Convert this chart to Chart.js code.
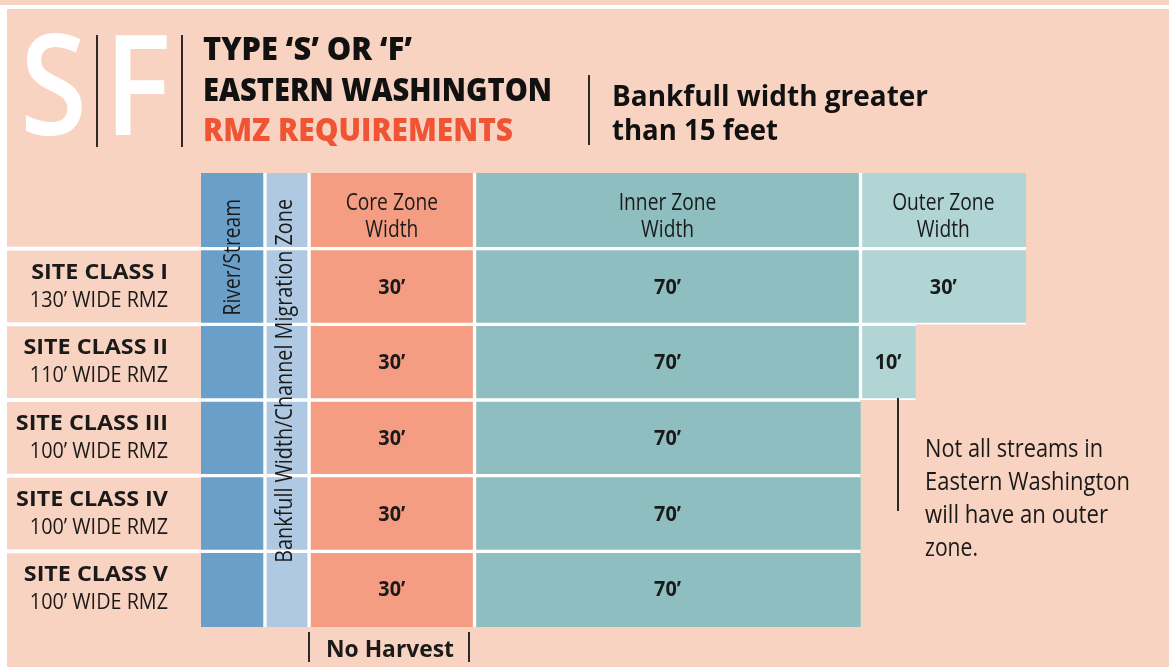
<!DOCTYPE html>
<html>
<head>
<meta charset="utf-8">
<script src="https://cdn.jsdelivr.net/npm/chart.js@4.4.1/dist/chart.umd.min.js"></script>
<style>
  html, body { margin: 0; padding: 0; background: #F9D3C1; }
  #wrap { position: relative; width: 1169px; height: 667px; overflow: hidden; background: #F9D3C1; }
  #topline { position: absolute; left: 0; top: 5px; width: 1169px; height: 4px; background: #fff; }
  #leftline { position: absolute; left: 0; top: 5px; width: 7px; height: 662px; background: #fff; }
  #c { position: absolute; left: 0; top: 0; }
  #ov { position: absolute; left: 0; top: 0; pointer-events: none; }
</style>
</head>
<body>
<div id="wrap">
  <div id="topline"></div>
  <div id="leftline"></div>
  <canvas id="c" width="1169" height="667"></canvas>
  <svg id="ov" width="1169" height="667" xmlns="http://www.w3.org/2000/svg" font-family="'Open Sans', 'Noto Sans', sans-serif">
    <text x="20" y="135" font-size="140" font-weight="600" fill="#ffffff" textLength="67" lengthAdjust="spacingAndGlyphs">S</text>
    <text x="104" y="135" font-size="140" font-weight="600" fill="#ffffff" textLength="67" lengthAdjust="spacingAndGlyphs">F</text>
    <g stroke="#2a2a2a" stroke-width="2">
      <line x1="97" y1="35" x2="97" y2="147"/>
      <line x1="182" y1="35" x2="182" y2="147"/>
      <line x1="589" y1="75" x2="589" y2="145"/>
      <line x1="898" y1="398" x2="898" y2="511"/>
      <line x1="309" y1="632" x2="309" y2="662"/>
      <line x1="469" y1="632" x2="469" y2="662"/>
    </g>
    <g font-size="32" font-weight="800" fill="#111">
      <text x="203" y="60" textLength="209" lengthAdjust="spacingAndGlyphs">TYPE ‘S’ OR ‘F’</text>
      <text x="203" y="101" textLength="349" lengthAdjust="spacingAndGlyphs">EASTERN WASHINGTON</text>
      <text x="203" y="141" textLength="310" lengthAdjust="spacingAndGlyphs" fill="#EF5535">RMZ REQUIREMENTS</text>
    </g>
    <g font-size="29" font-weight="700" fill="#111">
      <text x="612" y="106" textLength="316" lengthAdjust="spacingAndGlyphs">Bankfull width greater</text>
      <text x="612" y="140" textLength="166" lengthAdjust="spacingAndGlyphs">than 15 feet</text>
    </g>
    <g font-size="25" font-weight="400" fill="#1a1a1a">
      <text x="925" y="457" textLength="178" lengthAdjust="spacingAndGlyphs">Not all streams in</text>
      <text x="925" y="490" textLength="205" lengthAdjust="spacingAndGlyphs">Eastern Washington</text>
      <text x="925" y="523" textLength="183" lengthAdjust="spacingAndGlyphs">will have an outer</text>
      <text x="925" y="556" textLength="53" lengthAdjust="spacingAndGlyphs">zone.</text>
    </g>
    <text x="326" y="657" font-size="24" font-weight="700" fill="#1a1a1a" textLength="128" lengthAdjust="spacingAndGlyphs">No Harvest</text>
  </svg>
</div>
<script>
// ---- data ----
const siteClasses = ['SITE CLASS I', 'SITE CLASS II', 'SITE CLASS III', 'SITE CLASS IV', 'SITE CLASS V'];
const rmzWidths = ['130’ WIDE RMZ', '110’ WIDE RMZ', '100’ WIDE RMZ', '100’ WIDE RMZ', '100’ WIDE RMZ'];
const columnHeaders = ['River/Stream', 'Bankfull Width/Channel Migration Zone', 'Core Zone\nWidth', 'Inner Zone\nWidth', 'Outer Zone\nWidth'];
// schematic (not to scale) widths for the stream and channel migration zone columns
const riverStream = [11.6, 11.6, 11.6, 11.6, 11.6];
const bankfullCMZ = [8, 8, 8, 8, 8];
// zone widths in feet
const coreZone = [30, 30, 30, 30, 30];
const innerZone = [70, 70, 70, 70, 70];
const outerZone = [30, 10, 0, 0, 0];

// ---- build table (first row = column header row) ----
const categories = ['', ...siteClasses];
const withHeader = arr => [Math.max(...arr), ...arr];
const series = [riverStream, bankfullCMZ, coreZone, innerZone, outerZone];
const colors = ['#6A9FC9', '#AFC9E3', '#F59D82', '#8EBEC0', '#B1D4D5'];
const datasets = series.map((s, k) => ({
  label: columnHeaders[k].replace('\n', ' '),
  data: withHeader(s),
  backgroundColor: colors[k]
}));
const xMax = Math.max(...categories.map((_, i) => datasets.reduce((a, d) => a + d.data[i], 0)));

const TXT = '#1a1a1a';
function drawText(ctx, s, x, y, font, sx, align) {
  ctx.save();
  ctx.font = font;
  ctx.fillStyle = TXT;
  ctx.textAlign = align;
  ctx.textBaseline = 'alphabetic';
  ctx.translate(x, y);
  ctx.scale(sx, 1);
  ctx.fillText(s, 0, 0);
  ctx.restore();
}

const FAM = "'Open Sans', 'Noto Sans', sans-serif";
const tablePlugin = {
  id: 'tableText',
  beforeDatasetsDraw(chart) {
    const { ctx, chartArea, scales: { y } } = chart;
    ctx.save();
    ctx.fillStyle = '#ffffff';
    for (let i = 0; i < categories.length - 1; i++) {
      const yy = (y.getPixelForValue(i) + y.getPixelForValue(i + 1)) / 2;
      ctx.fillRect(7, yy - 2, chartArea.left - 7, 4);
    }
    ctx.restore();
  },
  afterDatasetsDraw(chart) {
    const { ctx, chartArea } = chart;
    // column headers for zone columns
    for (let d = 2; d < datasets.length; d++) {
      const el = chart.getDatasetMeta(d).data[0];
      const cx = (el.x + el.base) / 2;
      const lines = columnHeaders[d].split('\n');
      drawText(ctx, lines[0], cx, el.y - 1, '400 24px ' + FAM, 0.8, 'center');
      drawText(ctx, lines[1], cx, el.y + 26, '400 24px ' + FAM, 0.8, 'center');
    }
    // vertical headers
    const vert = (d, dx, sx) => {
      const el = chart.getDatasetMeta(d).data[0];
      const cx = (el.x + el.base) / 2;
      ctx.save();
      ctx.translate(cx + dx, chartArea.top + 26);
      ctx.rotate(-Math.PI / 2);
      ctx.scale(sx, 1);
      ctx.font = '400 24px ' + FAM;
      ctx.fillStyle = TXT;
      ctx.textAlign = 'right';
      ctx.textBaseline = 'alphabetic';
      ctx.fillText(columnHeaders[d], 0, 0);
      ctx.restore();
    };
    vert(0, 7, 0.8);
    vert(1, 5, 0.825);
    // values and row labels
    for (let i = 1; i < categories.length; i++) {
      for (let d = 2; d < datasets.length; d++) {
        const v = datasets[d].data[i];
        if (!v) continue;
        const el = chart.getDatasetMeta(d).data[i];
        drawText(ctx, v + '’', (el.x + el.base) / 2, el.y + 7, '700 22px ' + FAM, 0.9, 'center');
      }
      const el0 = chart.getDatasetMeta(0).data[i];
      drawText(ctx, siteClasses[i - 1], chartArea.left - 33, el0.y - 8, '700 22px ' + FAM, 1.06, 'right');
      drawText(ctx, rmzWidths[i - 1], chartArea.left - 33, el0.y + 20, '500 22px ' + FAM, 0.9, 'right');
    }
  }
};

function borderW(ctx) {
  const i = ctx.dataIndex, d = ctx.datasetIndex;
  const ds = ctx.chart.data.datasets;
  const n = ctx.chart.data.labels.length;
  if (!ds[d].data[i]) return 0;
  let last = true;
  for (let k = d + 1; k < ds.length; k++) if (ds[k].data[i] > 0) last = false;
  return { top: i === 0 ? 0 : 2, bottom: i === n - 1 ? 0 : 2, left: d === 0 ? 0 : 2, right: last ? 0 : 2 };
}

new Chart(document.getElementById('c'), {
  type: 'bar',
  data: { labels: categories, datasets },
  options: {
    indexAxis: 'y',
    responsive: false,
    animation: false,
    events: [],
    layout: { padding: { left: 201, right: 143, top: 173, bottom: 40 } },
    datasets: {
      bar: {
        barPercentage: 1,
        categoryPercentage: 1,
        borderSkipped: false,
        borderColor: '#ffffff',
        borderWidth: borderW
      }
    },
    scales: {
      x: { stacked: true, display: false, min: 0, max: xMax },
      y: { stacked: true, display: false }
    },
    plugins: { legend: { display: false }, tooltip: { enabled: false } }
  },
  plugins: [tablePlugin]
});
</script>
</body>
</html>
